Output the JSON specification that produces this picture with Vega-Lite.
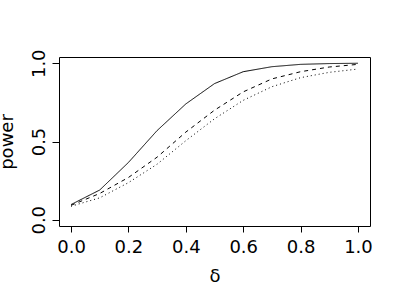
{
  "$schema": "https://vega.github.io/schema/vega-lite/v6.json",
  "autosize": "none",
  "padding": {"left": 59, "top": 57, "right": 30, "bottom": 74},
  "width": 311,
  "height": 169,
  "background": "white",
  "config": {
    "view": {"stroke": "black", "strokeWidth": 1},
    "axis": {
      "grid": false,
      "domain": false,
      "tickColor": "black",
      "tickWidth": 1,
      "labelColor": "black",
      "labelFont": "DejaVu Sans",
      "labelFontSize": 18,
      "titleFont": "DejaVu Sans",
      "titleFontSize": 18,
      "titleFontWeight": "normal",
      "titleColor": "black"
    }
  },
  "data": {
    "values": [
      {"delta": 0.0, "power": 0.097, "series": "a"},
      {"delta": 0.1, "power": 0.19, "series": "a"},
      {"delta": 0.2, "power": 0.366, "series": "a"},
      {"delta": 0.3, "power": 0.57, "series": "a"},
      {"delta": 0.4, "power": 0.74, "series": "a"},
      {"delta": 0.5, "power": 0.87, "series": "a"},
      {"delta": 0.6, "power": 0.946, "series": "a"},
      {"delta": 0.7, "power": 0.978, "series": "a"},
      {"delta": 0.8, "power": 0.993, "series": "a"},
      {"delta": 0.9, "power": 0.998, "series": "a"},
      {"delta": 1.0, "power": 1.0, "series": "a"},
      {"delta": 0.0, "power": 0.092, "series": "b"},
      {"delta": 0.1, "power": 0.168, "series": "b"},
      {"delta": 0.2, "power": 0.27, "series": "b"},
      {"delta": 0.3, "power": 0.40, "series": "b"},
      {"delta": 0.4, "power": 0.56, "series": "b"},
      {"delta": 0.5, "power": 0.70, "series": "b"},
      {"delta": 0.6, "power": 0.817, "series": "b"},
      {"delta": 0.7, "power": 0.90, "series": "b"},
      {"delta": 0.8, "power": 0.946, "series": "b"},
      {"delta": 0.9, "power": 0.976, "series": "b"},
      {"delta": 1.0, "power": 0.993, "series": "b"},
      {"delta": 0.0, "power": 0.086, "series": "c"},
      {"delta": 0.1, "power": 0.14, "series": "c"},
      {"delta": 0.2, "power": 0.237, "series": "c"},
      {"delta": 0.3, "power": 0.355, "series": "c"},
      {"delta": 0.4, "power": 0.505, "series": "c"},
      {"delta": 0.5, "power": 0.645, "series": "c"},
      {"delta": 0.6, "power": 0.763, "series": "c"},
      {"delta": 0.7, "power": 0.85, "series": "c"},
      {"delta": 0.8, "power": 0.908, "series": "c"},
      {"delta": 0.9, "power": 0.942, "series": "c"},
      {"delta": 1.0, "power": 0.963, "series": "c"}
    ]
  },
  "mark": {"type": "line", "color": "black", "strokeWidth": 1, "clip": true},
  "encoding": {
    "x": {
      "field": "delta",
      "type": "quantitative",
      "scale": {"domain": [-0.042, 1.042], "nice": false, "zero": false},
      "axis": {
        "title": "δ",
        "values": [0, 0.2, 0.4, 0.6, 0.8, 1.0],
        "format": ".1f",
        "tickSize": 6,
        "labelPadding": 20,
        "labelBaseline": "alphabetic",
        "labelFlush": false,
        "labelOverlap": false,
        "titleY": 55,
        "titleBaseline": "alphabetic"
      }
    },
    "y": {
      "field": "power",
      "type": "quantitative",
      "scale": {"domain": [-0.04, 1.04], "nice": false, "zero": false},
      "axis": {
        "title": "power",
        "values": [0, 0.5, 1.0],
        "format": ".1f",
        "tickSize": 7,
        "labelAngle": -90,
        "labelAlign": "center",
        "labelBaseline": "alphabetic",
        "labelPadding": 8,
        "labelFlush": false,
        "labelOverlap": false,
        "titleAngle": -90,
        "titleX": -46.5,
        "titleY": 84.5,
        "titleAlign": "center",
        "titleBaseline": "alphabetic"
      }
    },
    "strokeDash": {
      "field": "series",
      "type": "nominal",
      "scale": {"domain": ["a", "b", "c"], "range": [[1, 0], [4, 4], [1, 3]]},
      "legend": null
    }
  }
}
